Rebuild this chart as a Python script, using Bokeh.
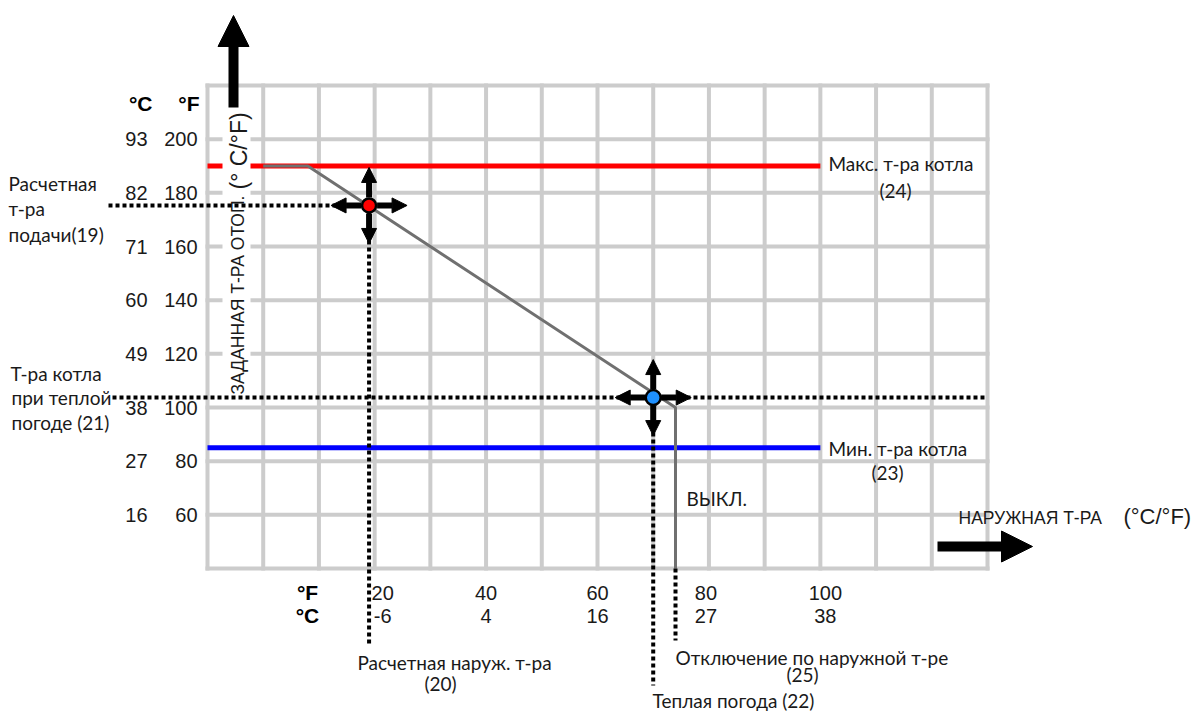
import math
from bokeh.plotting import figure
from bokeh.models import Range1d, Arrow, NormalHead
from bokeh.core.properties import value
from bokeh.embed import file_html
from bokeh.resources import INLINE

# ---------------- data (°F) ----------------
x_ticks_f = [20, 40, 60, 80, 100]
x_ticks_c = ["-6", "4", "16", "27", "38"]
y_ticks_f = [200, 180, 160, 140, 120, 100, 80, 60]
y_ticks_c = ["93", "82", "71", "60", "49", "38", "27", "16"]

grid_x = [-10, 0, 10, 20, 30, 40, 50, 60, 70, 80, 90, 100, 110, 120, 130]
grid_y = [40, 60, 80, 100, 120, 140, 160, 180, 200, 220]

curve_x = [0, 8, 74, 74]
curve_y = [190, 190, 100, 40]

max_line_x = [-10, 100]
max_boiler = 190
min_line_x = [-10, 100]
min_boiler = 85

design_outdoor = 19      # расчетная наружная т-ра
design_supply = 175.3    # расчетная т-ра подачи
ww_outdoor = 70          # теплая погода
ww_boiler = 103.7        # т-ра котла при теплой погоде
wwsd_outdoor = 74        # отключение по наружной т-ре

# ---------------- geometry ----------------
W, H = 1193, 711
PAGE = 0
GX0, GX1, GY0, GY1 = grid_x[0], grid_x[-1], grid_y[0], grid_y[-1]
gl, gr, gt, gb = 207 - PAGE, 987 - PAGE, 85 - PAGE, 568 - PAGE
sx = (gr - gl) / (GX1 - GX0)
sy = (gb - gt) / (GY1 - GY0)


def X(px):
    return GX0 + (px - PAGE - gl) / sx


def Y(py):
    return GY1 - (py - PAGE - gt) / sy


def DX(n):
    return n / sx


def DY(n):
    return n / sy


p = figure(width=W, height=H,
           x_range=Range1d(GX0 - gl / sx, GX0 + (W - gl) / sx),
           y_range=Range1d(GY0 - (H - gb) / sy, GY1 + gt / sy),
           x_axis_type=None, y_axis_type=None,
           toolbar_location=None, output_backend="svg",
           min_border=0, outline_line_color=None,
           background_fill_color="white", border_fill_color="white")

GRID = "#cccccc"
NUM_FONT = value("Liberation Sans")
SANS = value("Liberation Sans")
NOTE = value("Lato")
INK = "#1a1a1a"

# grid
p.segment(x0=grid_x, y0=[GY0] * len(grid_x), x1=grid_x, y1=[GY1] * len(grid_x),
          line_color=GRID, line_width=4, line_cap="square")
p.segment(x0=[GX0] * len(grid_y), y0=grid_y, x1=[GX1] * len(grid_y), y1=grid_y,
          line_color=GRID, line_width=4, line_cap="square")

# max / min boiler lines
p.line(max_line_x, [max_boiler] * 2, line_color="#ff0000", line_width=5)
p.line(min_line_x, [min_boiler] * 2, line_color="#0000ff", line_width=5)

# heating curve
p.line(curve_x, curve_y, line_color="#707070", line_width=3)

# white background behind the vertical axis title
p.quad(left=[X(222)], right=[X(250)], bottom=[Y(396)], top=[Y(100)],
       fill_color="white", line_color=None)
p.text(x=[X(237)], y=[Y(394)], text=["ЗАДАННАЯ Т-РА ОТОП."], angle=math.pi / 2,
       text_align="left", text_baseline="middle", text_font=SANS,
       text_font_size="17.5px", text_color=INK)
p.text(x=[X(238)], y=[Y(189)], text=["(° C/°F)"], angle=math.pi / 2,
       text_align="left", text_baseline="middle", text_font=SANS,
       text_font_size="23px", text_color=INK)

# dotted guide lines
DOT = dict(line_color="black", line_width=4, line_dash="4 3")
p.line([X(108), design_outdoor], [design_supply] * 2, **DOT)
p.line([design_outdoor] * 2, [design_supply, Y(643)], **DOT)
p.line([X(112), GX1], [ww_boiler] * 2, **DOT)
p.line([ww_outdoor] * 2, [ww_boiler, Y(685)], **DOT)
p.line([wwsd_outdoor] * 2, [GY0, Y(640)], **DOT)

# adjustable points
p.scatter([design_outdoor], [design_supply], size=14, fill_color="#ff0000",
          line_color="black", line_width=2.5)
p.scatter([ww_outdoor], [ww_boiler], size=15, fill_color="#1e90ff",
          line_color="black", line_width=2.5)

# four-way arrows around the points
for cx, cy in [(design_outdoor, design_supply), (ww_outdoor, ww_boiler)]:
    for ux, uy in [(0, 1), (0, -1), (-1, 0), (1, 0)]:
        p.add_layout(Arrow(x_start=cx + ux * DX(8), y_start=cy + uy * DY(8),
                           x_end=cx + ux * DX(38), y_end=cy + uy * DY(38),
                           line_color="black", line_width=6,
                           end=NormalHead(size=15, fill_color="black",
                                          line_color="black")))

# axis arrows
p.add_layout(Arrow(x_start=X(233), y_start=Y(107), x_end=X(233), y_end=Y(15),
                   line_color="black", line_width=10,
                   end=NormalHead(size=31, fill_color="black", line_color="black")))
p.add_layout(Arrow(x_start=X(937), y_start=Y(546), x_end=X(1032), y_end=Y(546),
                   line_color="black", line_width=10,
                   end=NormalHead(size=31, fill_color="black", line_color="black")))

# y tick labels (°C and °F columns)
p.text(x=[GX0] * len(y_ticks_f), y=y_ticks_f, text=y_ticks_c, x_offset=-60,
       text_align="right", text_baseline="middle", text_font=NUM_FONT,
       text_font_size="20px", text_color=INK)
p.text(x=[GX0] * len(y_ticks_f), y=y_ticks_f, text=[str(v) for v in y_ticks_f],
       x_offset=-10, text_align="right", text_baseline="middle",
       text_font=NUM_FONT, text_font_size="20px", text_color=INK)
p.text(x=[GX0, GX0], y=[Y(103), Y(103)], text=["°C", "°F"], x_offset=[-55, -8],
       text_align="right", text_baseline="middle", text_font=SANS,
       text_font_style="bold", text_font_size="21px", text_color="black")

# x tick labels (°F row and °C row)
xoff = [8, 0, 0, -3, 5]
p.text(x=x_ticks_f, y=[Y(592)] * len(x_ticks_f), text=[str(v) for v in x_ticks_f],
       x_offset=xoff, text_align="center", text_baseline="middle",
       text_font=NUM_FONT, text_font_size="20px", text_color=INK)
p.text(x=x_ticks_f, y=[Y(615)] * len(x_ticks_f), text=x_ticks_c,
       x_offset=xoff, text_align="center", text_baseline="middle",
       text_font=NUM_FONT, text_font_size="20px", text_color=INK)
p.text(x=[X(307), X(307)], y=[Y(592), Y(615)], text=["°F", "°C"],
       text_align="center", text_baseline="middle", text_font=SANS,
       text_font_style="bold", text_font_size="21px", text_color="black")

# horizontal axis title
p.text(x=[X(958)], y=[Y(517)], text=["НАРУЖНАЯ Т-РА"], text_align="left",
       text_baseline="middle", text_font=SANS, text_font_size="17.5px",
       text_color=INK)
p.text(x=[X(1123)], y=[Y(516)], text=["(°C/°F)"], text_align="left",
       text_baseline="middle", text_font=SANS, text_font_size="22px",
       text_color=INK)

# annotations
notes_left = [
    ("Расчетная", 8, 183), ("т-ра", 8, 208), ("подачи(19)", 8, 234),
    ("Т-ра котла", 10, 373), ("при теплой", 11, 397), ("погоде (21)", 11, 422),
    ("Макс. т-ра котла", 828, 163), ("Мин. т-ра котла", 828, 448),
    ("ВЫКЛ.", 686, 498), ("Отключение по наружной т-ре", 675, 657),
    ("Теплая погода (22)", 652, 700),
]
notes_center = [
    ("(24)", 895, 190), ("(23)", 887, 472),
    ("Расчетная наруж. т-ра", 454, 662), ("(20)", 440, 683), ("(25)", 802, 674),
]
p.text(x=[X(a) for _, a, _ in notes_left], y=[Y(b) for _, _, b in notes_left],
       text=[t for t, _, _ in notes_left], text_align="left",
       text_baseline="middle", text_font=NOTE, text_font_size="19px",
       text_color=INK)
p.text(x=[X(a) for _, a, _ in notes_center], y=[Y(b) for _, _, b in notes_center],
       text=[t for t, _, _ in notes_center], text_align="center",
       text_baseline="middle", text_font=NOTE, text_font_size="19px",
       text_color=INK)

open("out.html", "w").write(file_html(p, INLINE))
